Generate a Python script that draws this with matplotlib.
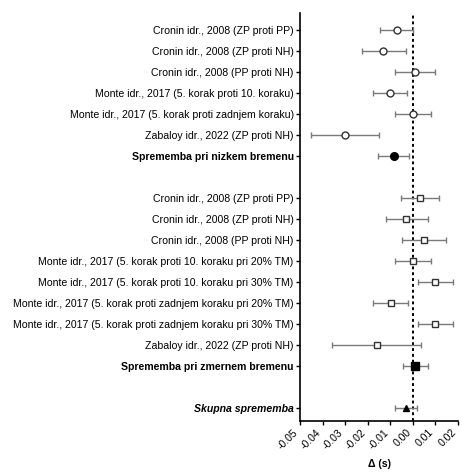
import matplotlib.pyplot as plt
import numpy as np

plt.rcParams["font.family"] = ["Liberation Sans Narrow", "Liberation Sans", "DejaVu Sans"]

low_labels = [
    "Cronin idr., 2008 (ZP proti PP)",
    "Cronin idr., 2008 (ZP proti NH)",
    "Cronin idr., 2008 (PP proti NH)",
    "Monte idr., 2017 (5. korak proti 10. koraku)",
    "Monte idr., 2017 (5. korak proti zadnjem koraku)",
    "Zabaloy idr., 2022 (ZP proti NH)",
]
low_mean = [-0.0072, -0.0131, 0.0009, -0.0102, 0.0001, -0.0300]
low_lo = [-0.0146, -0.0224, -0.0077, -0.0178, -0.0077, -0.0451]
low_hi = [0.0001, -0.0032, 0.0097, -0.0025, 0.0080, -0.0150]
low_sum = (-0.0085, -0.0156, -0.0018)

mod_labels = [
    "Cronin idr., 2008 (ZP proti PP)",
    "Cronin idr., 2008 (ZP proti NH)",
    "Cronin idr., 2008 (PP proti NH)",
    "Monte idr., 2017 (5. korak proti 10. koraku pri 20% TM)",
    "Monte idr., 2017 (5. korak proti 10. koraku pri 30% TM)",
    "Monte idr., 2017 (5. korak proti zadnjem koraku pri 20% TM)",
    "Monte idr., 2017 (5. korak proti zadnjem koraku pri 30% TM)",
    "Zabaloy idr., 2022 (ZP proti NH)",
]
mod_mean = [0.0031, -0.0031, 0.0050, 0.0001, 0.0099, -0.0099, 0.0099, -0.0161]
mod_lo = [-0.0054, -0.0121, -0.0046, -0.0077, 0.0024, -0.0178, 0.0024, -0.0357]
mod_hi = [0.0115, 0.0065, 0.0145, 0.0080, 0.0178, -0.0023, 0.0178, 0.0038]
mod_sum = (0.0009, -0.0043, 0.0068)

total = (-0.0032, -0.0080, 0.0019)

xticks = [-0.05, -0.04, -0.03, -0.02, -0.01, 0.00, 0.01, 0.02]
xtick_labels = ["-0.05", "-0.04", "-0.03", "-0.02", "-0.01", "0.00", "0.01", "0.02"]

fig = plt.figure(figsize=(4.62, 4.73), dpi=100)
ax = fig.add_axes([300 / 462, 52 / 473, 158 / 462, 408 / 473])

bar_col = "#7a7a7a"
edge_col = "#333333"


def draw(y, m, lo, hi, marker, filled, size=5):
    ax.errorbar(m, y, xerr=[[m - lo], [hi - m]], fmt="none", ecolor=bar_col,
                elinewidth=1.0, capsize=2.5, capthick=1.0, zorder=2)
    ax.plot(m, y, marker=marker, ms=size, mec="black" if filled else edge_col,
            mfc="black" if filled else "white", mew=1.0, ls="none", zorder=3)


# low load group
for i in range(len(low_labels)):
    draw(i, low_mean[i], low_lo[i], low_hi[i], "o", False)
n_low = len(low_labels)
draw(n_low, low_sum[0], low_sum[1], low_sum[2], "o", True, 5.5)

# moderate load group
start = n_low + 2
for i in range(len(mod_labels)):
    draw(start + i, mod_mean[i], mod_lo[i], mod_hi[i], "s", False)
mod_sum_y = start + len(mod_labels)
draw(mod_sum_y, mod_sum[0], mod_sum[1], mod_sum[2], "s", True, 5.5)

total_y = mod_sum_y + 2
draw(total_y, total[0], total[1], total[2], "^", True, 5)

ax.axvline(0, color="black", ls=(0, (1.5, 1.5)), lw=1.4, zorder=1)

yticks = list(range(n_low + 1)) + list(range(start, mod_sum_y + 1)) + [total_y]
ylabels = low_labels + ["Sprememba pri nizkem bremenu"] + mod_labels + \
    ["Sprememba pri zmernem bremenu"] + ["Skupna sprememba"]
ax.set_yticks(yticks)
ax.set_yticklabels(ylabels, fontsize=7.6)
for lab in ax.get_yticklabels():
    if lab.get_text().startswith("Sprememba"):
        lab.set_fontweight("bold")
    if lab.get_text().startswith("Skupna"):
        lab.set_fontweight("bold")
        lab.set_fontstyle("italic")

ax.set_ylim(18.62, -0.81)
ax.set_xlim(-0.05, 0.02)
ax.set_xticks(xticks)
ax.set_xticklabels(xtick_labels, rotation=45, ha="right", fontsize=7.6)
ax.set_xlabel("Δ (s)", fontsize=7.6, fontweight="bold", labelpad=6)

for s in ["top", "right"]:
    ax.spines[s].set_visible(False)
ax.spines["left"].set_linewidth(1.2)
ax.spines["bottom"].set_linewidth(1.2)
ax.tick_params(axis="both", length=3, width=1.0, pad=1.5)

fig.savefig("out.png", dpi=100)
